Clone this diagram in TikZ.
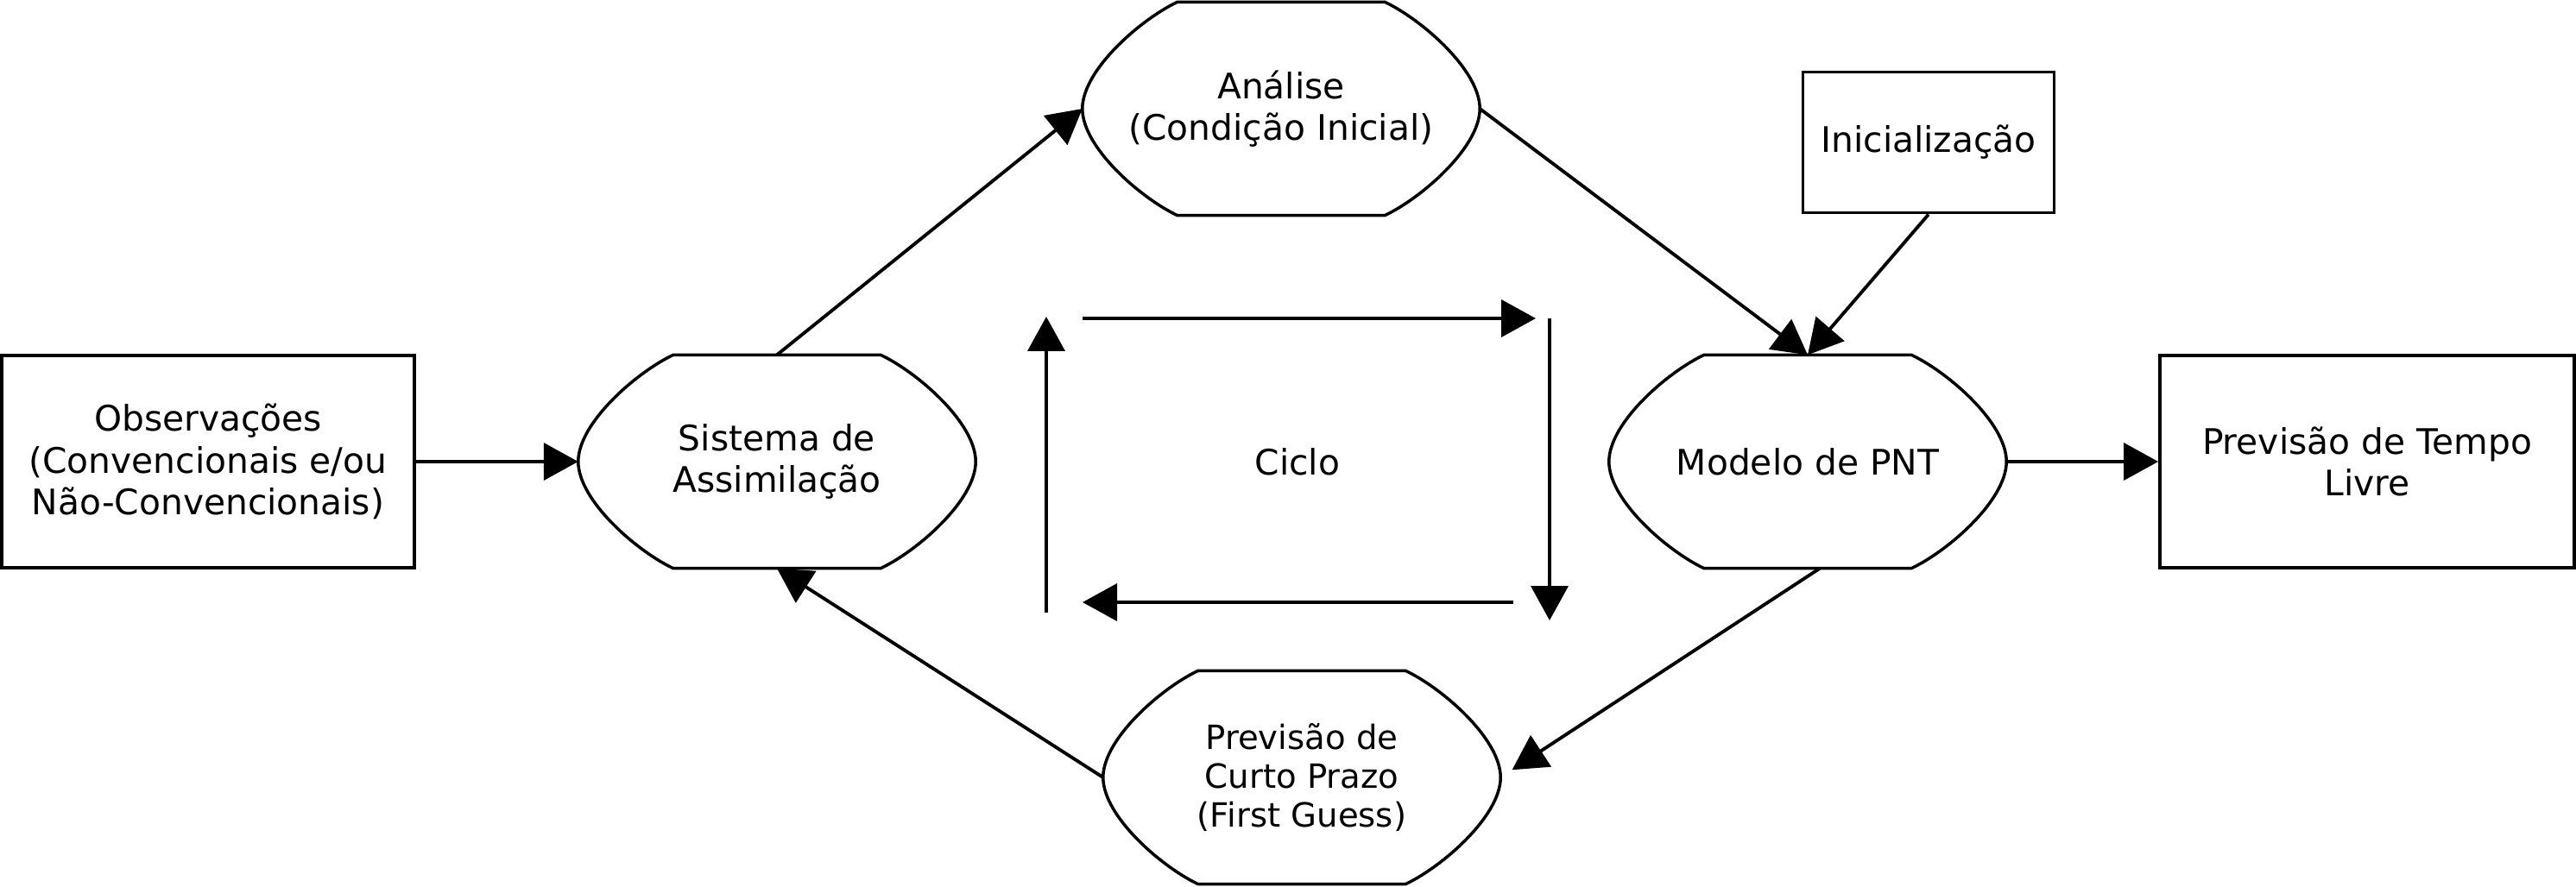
\documentclass[tikz,border=0pt]{standalone}
\usepackage{fontspec}
\setmainfont{DejaVu Sans}
\usetikzlibrary{arrows.meta}

\begin{document}
\begin{tikzpicture}[
    box/.style={rectangle, draw, line width=1.1pt, minimum width=4.78cm, minimum height=2.46cm, align=center, font=\fontsize{11.6}{13.7}\selectfont},
    hexa/.style={minimum width=4.59cm, minimum height=2.46cm, inner sep=0pt, align=center, font=\fontsize{11.6}{13.7}\selectfont},
    arrow/.style={-{Triangle[length=0.4cm, width=0.43cm]}, line width=1.1pt}
]
\useasboundingbox (0,0) rectangle (29.84,10.27);
\node[box] (obs) at (2.41,4.92) {Observações\\(Convencionais e/ou\\Não-Convencionais)};
\node[hexa] (sis) at (9.00,4.92) {Sistema de\\Assimilação};
\node[hexa] (ana) at (14.84,9.01) {Análise\\(Condição Inicial)};
\node[hexa] (mod) at (20.94,4.92) {Modelo de PNT};
\node[hexa, font=\fontsize{11}{12.9}\selectfont] (curto) at (15.08,1.26) {Previsão de\\Curto Prazo\\(First Guess)};
\node[box, minimum width=2.91cm, minimum height=1.63cm] (ini) at (22.34,8.62) {Inicialização};
\node[box, minimum width=4.80cm] (livre) at (27.42,4.92) {Previsão de Tempo\\Livre};
\node[font=\fontsize{11.6}{13.7}\selectfont] (ciclo) at (15.03,4.92) {Ciclo};

\foreach \n in {sis,ana,mod,curto}
  \draw[line width=1pt, looseness=0.7] ([xshift=1.2cm]\n.north) -- ([xshift=-1.2cm]\n.north) to[out=-155,in=90] (\n.west) to[out=-90,in=155] ([xshift=-1.2cm]\n.south) -- ([xshift=1.2cm]\n.south) to[out=25,in=-90] (\n.east) to[out=90,in=-25] cycle;

\draw[arrow] (obs.east) -- (sis.west);
\draw[arrow] (sis.north) -- (ana.west);
\draw[arrow] (ana.east) -- (mod.north);
\draw[arrow] (ini.south) -- (mod.north);
\draw[arrow] (mod.east) -- (livre.west);
\draw[arrow, shorten >=0.16cm] ([xshift=0.14cm]mod.south) -- (curto.east);
\draw[arrow] (curto.west) -- (sis.south);

\coordinate (t1) at (12.54,6.58);
\coordinate (t2) at (17.79,6.58);
\coordinate (r1) at (17.95,6.58);
\coordinate (r2) at (17.95,3.08);
\coordinate (b1) at (17.53,3.29);
\coordinate (b2) at (12.54,3.29);
\coordinate (l1) at (12.12,3.17);
\coordinate (l2) at (12.12,6.60);
\draw[arrow] (t1) -- (t2);
\draw[arrow] (r1) -- (r2);
\draw[arrow] (b1) -- (b2);
\draw[arrow] (l1) -- (l2);
\end{tikzpicture}
\end{document}
